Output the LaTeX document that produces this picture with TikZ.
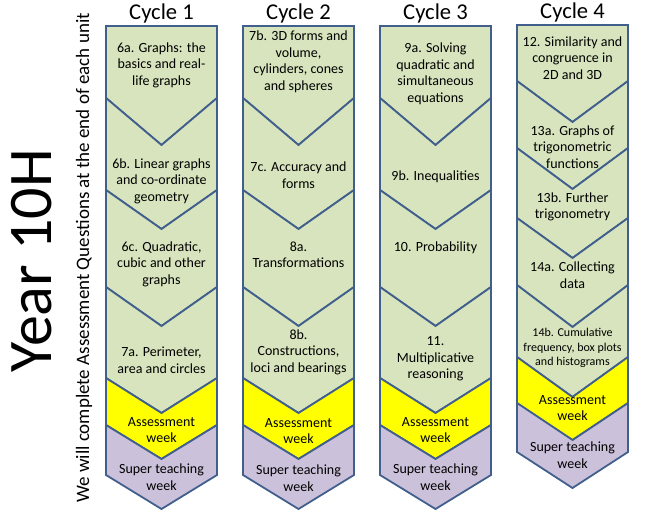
\documentclass[tikz,border=0pt]{standalone}
\usepackage{fontspec}
\setmainfont{Carlito}
\usetikzlibrary{positioning}
\definecolor{unitgreen}{RGB}{215,228,189}
\definecolor{weekyellow}{RGB}{255,255,0}
\definecolor{weekpurple}{RGB}{204,193,218}
\definecolor{edgeblue}{RGB}{65,95,140}
\tikzset{
  chev/.style = {draw=edgeblue, line width=1.8pt},
  unit/.style = {chev, fill=unitgreen},
  assess/.style = {chev, fill=weekyellow},
  superweek/.style = {chev, fill=weekpurple},
  topic/.style = {align=center, inner sep=0pt,
                  font=\fontsize{14}{16.5}\selectfont},
  smalltopic/.style = {topic, font=\fontsize{12}{14.5}\selectfont},
  cycle/.style = {inner sep=0pt, font=\fontsize{22.6}{27}\selectfont},
}
% one chevron: left x, top edge, top tip, bottom edge, bottom tip, style
\newcommand{\chevpiece}[6]{%
  \draw[#6] (#1,#2) -- (#1+55.5,#3) -- (#1+111,#2) -- (#1+111,#4)
    -- (#1+55.5,#5) -- (#1,#4) -- cycle;}

\begin{document}
\begin{tikzpicture}[x=1pt, y=-1pt]
  \useasboundingbox (0,0) rectangle (660,514);

  % side titles
  \node (year) [rotate=90, inner sep=0pt, font=\fontsize{62}{70}\selectfont] at (32,261) {Year 10H};
  \node (note) [rotate=90, inner sep=0pt, font=\fontsize{19}{22}\selectfont] at (84,258)
    {We will complete Assessment Questions at the end of each unit};

  % cycle 1
  \chevpiece{106}{26}{26}{98}{145}{unit}
  \chevpiece{106}{98}{145}{190}{229}{unit}
  \chevpiece{106}{190}{229}{287}{326}{unit}
  \chevpiece{106}{287}{326}{378}{413}{unit}
  \chevpiece{106}{378}{413}{425}{459}{assess}
  \chevpiece{106}{425}{459}{475}{509}{superweek}
  % cycle 2
  \chevpiece{243}{26}{26}{98}{145}{unit}
  \chevpiece{243}{98}{145}{190}{229}{unit}
  \chevpiece{243}{190}{229}{287}{326}{unit}
  \chevpiece{243}{287}{326}{378}{413}{unit}
  \chevpiece{243}{378}{413}{425}{459}{assess}
  \chevpiece{243}{425}{459}{475}{509}{superweek}
  % cycle 3
  \chevpiece{380}{26}{26}{98}{145}{unit}
  \chevpiece{380}{98}{145}{190}{229}{unit}
  \chevpiece{380}{190}{229}{287}{326}{unit}
  \chevpiece{380}{287}{326}{378}{413}{unit}
  \chevpiece{380}{378}{413}{425}{459}{assess}
  \chevpiece{380}{425}{459}{475}{509}{superweek}
  % cycle 4
  \chevpiece{517}{25}{25}{81}{122}{unit}
  \chevpiece{517}{81}{122}{148}{189}{unit}
  \chevpiece{517}{148}{189}{218}{258}{unit}
  \chevpiece{517}{218}{258}{285}{327}{unit}
  \chevpiece{517}{285}{327}{357}{397}{unit}
  \chevpiece{517}{357}{397}{403}{440}{assess}
  \chevpiece{517}{403}{440}{452}{488}{superweek}

  % headings
  \node (cyc1) [cycle] at (161.5,13) {Cycle 1};
  \node (cyc2) [cycle] at (298.5,13) {Cycle 2};
  \node (cyc3) [cycle] at (435.5,13) {Cycle 3};
  \node (cyc4) [cycle] at (572.5,12) {Cycle 4};

  % cycle 1 units
  \node (u6a) [topic] at (161.5,65) {6a. Graphs: the\\basics and real-\\life graphs};
  \node (u6b) [topic] at (161.5,181) {6b. Linear graphs\\and co-ordinate\\geometry};
  \node (u6c) [topic] at (161.5,264) {6c. Quadratic,\\cubic and other\\graphs};
  \node (u7a) [topic] at (161.5,360) {7a. Perimeter,\\area and circles};
  \node (aw1) [topic] at (161.5,430) {Assessment\\week};
  \node (sw1) [topic] at (161.5,477) {Super teaching\\week};
  % cycle 2 units
  \node (u7b) [topic] at (298.5,62) {7b. 3D forms and\\volume,\\cylinders, cones\\and spheres};
  \node (u7c) [topic] at (298.5,175) {7c. Accuracy and\\forms};
  \node (u8a) [topic] at (298.5,255) {8a.\\Transformations};
  \node (u8b) [topic] at (298.5,352) {8b.\\Constructions,\\loci and bearings};
  \node (aw2) [topic] at (298.5,431) {Assessment\\week};
  \node (sw2) [topic] at (298.5,478) {Super teaching\\week};
  % cycle 3 units
  \node (u9a) [topic] at (435.5,74) {9a. Solving\\quadratic and\\simultaneous\\equations};
  \node (u9b) [topic] at (435.5,177) {9b. Inequalities};
  \node (u10) [topic] at (435.5,248) {10. Probability};
  \node (u11) [topic] at (435.5,359) {11.\\Multiplicative\\reasoning};
  \node (aw3) [topic] at (435.5,430) {Assessment\\week};
  \node (sw3) [topic] at (435.5,477) {Super teaching\\week};
  % cycle 4 units
  \node (u12) [topic] at (572.5,58) {12. Similarity and\\congruence in\\2D and 3D};
  \node (u13a) [topic] at (572.5,147) {13a. Graphs of\\trigonometric\\functions};
  \node (u13b) [topic] at (572.5,207) {13b. Further\\trigonometry};
  \node (u14a) [topic] at (572.5,275) {14a. Collecting\\data};
  \node (u14b) [smalltopic] at (572.5,348) {14b. Cumulative\\frequency, box plots\\and histograms};
  \node (aw4) [topic] at (572.5,408) {Assessment\\week};
  \node (sw4) [topic] at (572.5,455) {Super teaching\\week};
\end{tikzpicture}
\end{document}
